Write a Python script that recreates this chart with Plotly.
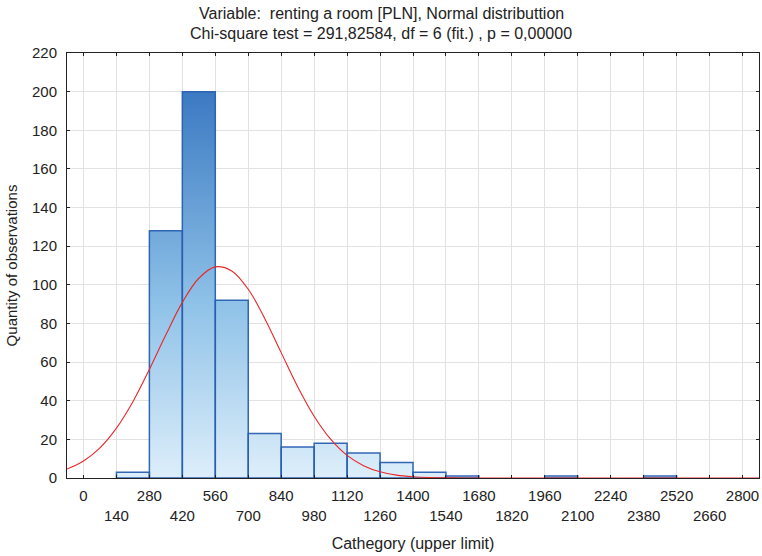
import plotly.graph_objects as go

# ---- data ----
upper_limits = [140, 280, 420, 560, 700, 840, 980, 1120, 1260, 1400,
                1540, 1680, 1820, 1960, 2100, 2240, 2380, 2520, 2660, 2800]
counts = [0, 3, 128, 200, 92, 23, 16, 18, 13, 8,
          3, 1, 0, 0, 1, 0, 0, 1, 0, 0]
bin_width = 140

tick_values = [0, 140, 280, 420, 560, 700, 840, 980, 1120, 1260, 1400,
               1540, 1680, 1820, 1960, 2100, 2240, 2380, 2520, 2660, 2800]
tick_labels = [str(v) for v in tick_values]

# expected (normal fit) curve
curve_x = [-70, 0, 70, 140, 210, 280, 350, 420, 490, 560, 630, 700, 770, 840,
           910, 980, 1050, 1120, 1190, 1260, 1330, 1400, 1470, 1540, 1610,
           1680, 1820, 1960, 2100, 2240, 2380, 2520, 2660, 2800, 2870]
curve_y = [4.6, 8.8, 15.6, 25.8, 39.5, 56.2, 74.1, 90.9, 103.4, 109.3, 107.2,
           97.7, 82.6, 64.9, 47.3, 32.0, 20.1, 11.7, 6.4, 3.2, 1.5, 0.65,
           0.26, 0.10, 0.03, 0.01, 0, 0, 0, 0, 0, 0, 0, 0, 0]

title_line1 = "Variable:  renting a room [PLN], Normal distributtion"
title_line2 = "Chi-square test = 291,82584, df = 6 (fit.) , p = 0,00000"
x_title = "Cathegory (upper limit)"
y_title = "Quantity of observations"

FONT = "Arial, 'Liberation Sans', sans-serif"
ML, MR, MT, MB = 67, 3, 53, 78
W, H = 762, 556
TICK_SIZE = 15

# build bar outlines (one polygon per non-empty bin)
bx, by = [], []
for up, c in zip(upper_limits, counts):
    if c <= 0:
        continue
    lo = up - bin_width
    bx += [lo, lo, up, up, lo, None]
    by += [0, c, c, 0, 0, None]

fig = go.Figure()
fig.add_trace(go.Scatter(
    x=bx, y=by, mode="lines", fill="toself",
    line=dict(color="rgba(40,95,178,0.95)", width=1.5),
    fillgradient=dict(type="vertical", start=0, stop=200,
                      colorscale=[[0, "#ddeefa"], [0.45, "#8fc2e8"],
                                  [1, "#3b79c2"]]),
    hoverinfo="skip", showlegend=False, xaxis="x", yaxis="y"))

fig.add_trace(go.Scatter(
    x=curve_x, y=curve_y, mode="lines",
    line=dict(color="#e8272b", width=1.1, shape="spline", smoothing=1.0),
    showlegend=False, xaxis="x", yaxis="y"))

# invisible trace to activate second x axis (lower row of labels)
fig.add_trace(go.Scatter(x=[tick_values[0]], y=[0], mode="markers",
                         marker=dict(opacity=0), showlegend=False,
                         hoverinfo="skip", xaxis="x2", yaxis="y"))

row1 = [t if i % 2 == 0 else "" for i, t in enumerate(tick_labels)]
row2_vals = [v for i, v in enumerate(tick_values) if i % 2 == 1]
row2_text = [t for i, t in enumerate(tick_labels) if i % 2 == 1]

axis_common = dict(showline=True, linecolor="#222", linewidth=1,
                   mirror="ticks", ticks="inside", ticklen=3,
                   tickcolor="#222", zeroline=False,
                   gridcolor="#e2e2e2", gridwidth=1,
                   tickfont=dict(family=FONT, size=TICK_SIZE, color="#222"))

title_x = (381 - ML) / (W - ML - MR)
annotations = [
    dict(text=title_line1, xref="paper", yref="paper", x=title_x, y=1,
         xanchor="center", yanchor="middle", yshift=40, showarrow=False,
         font=dict(family=FONT, size=16, color="#222")),
    dict(text=title_line2, xref="paper", yref="paper", x=title_x, y=1,
         xanchor="center", yanchor="middle", yshift=20, showarrow=False,
         font=dict(family=FONT, size=16, color="#222")),
]

fig.update_layout(
    width=W, height=H,
    margin=dict(l=ML, r=MR, t=MT, b=MB),
    paper_bgcolor="white", plot_bgcolor="white",
    font=dict(family=FONT, color="#222"),
    annotations=annotations,
    xaxis=dict(range=[-70, 2870], tickvals=tick_values, ticktext=row1,
               showgrid=True, ticklabelstandoff=4,
               title=dict(text=x_title, standoff=34,
                          font=dict(family=FONT, size=16, color="#222")),
               automargin=False, **axis_common),
    xaxis2=dict(overlaying="x", matches="x", anchor="y", side="bottom",
                range=[-70, 2870], tickvals=row2_vals, ticktext=row2_text,
                showgrid=False, showline=False, ticks="", zeroline=False,
                ticklabelstandoff=27, automargin=False,
                tickfont=dict(family=FONT, size=TICK_SIZE, color="#222")),
    yaxis=dict(range=[0, 220], dtick=20, showgrid=True,
               ticklabelstandoff=6, automargin=False,
               title=dict(text=y_title, standoff=10,
                          font=dict(family=FONT, size=15, color="#222")),
               **axis_common),
)

fig.write_html("out.html",
               config={"displayModeBar": False},
               post_script="document.body.style.margin='0';"
                           "document.body.style.overflow='hidden';")
